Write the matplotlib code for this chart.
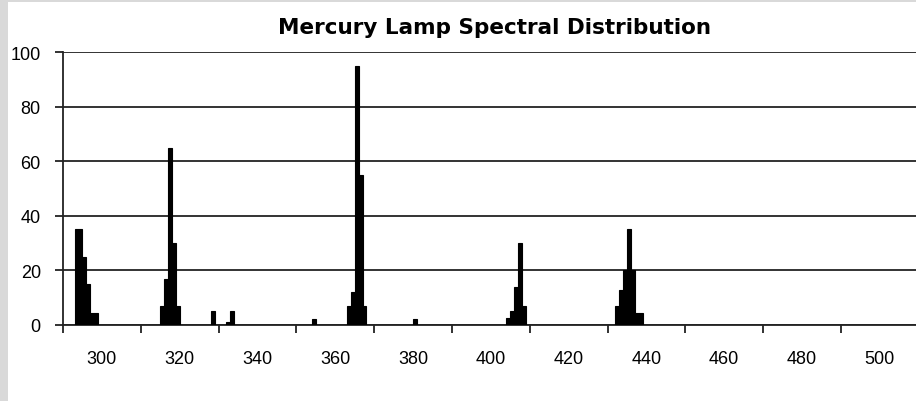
import matplotlib.pyplot as plt
from matplotlib.patches import Rectangle

plt.rcParams['font.family'] = ['Liberation Sans', 'DejaVu Sans']

# spectral lines (nm) and relative intensity
wavelength = [293, 294, 295, 296, 297, 298,
              315, 316, 317, 318, 319,
              328, 332, 333, 354,
              363, 364, 365, 366, 367,
              380,
              404, 405, 406, 407, 408,
              432, 433, 434, 435, 436, 437, 438]
intensity = [35, 35, 25, 15, 4.5, 4.5,
             7, 17, 65, 30, 7,
             5, 1, 5, 2.2,
             7, 12, 95, 55, 7,
             2.2,
             2.5, 5, 14, 30, 7,
             7, 13, 20, 35, 20, 4.5, 4.5]

x_labels = [300, 320, 340, 360, 380, 400, 420, 440, 460, 480, 500]
y_ticks = [0, 20, 40, 60, 80, 100]

fig = plt.figure(figsize=(9.16, 4.02), dpi=100)
fig.patch.set_facecolor('#d9d9d9')
# white chart area (grey frame only left and top)
fig.patches.append(Rectangle((8 / 916, 0), 1, 1 - 3 / 402, transform=fig.transFigure,
                             facecolor='white', edgecolor='none', zorder=-5))

ax = fig.add_axes([63 / 916, 76 / 402, 1 - 63 / 916, 273 / 402])
ax.set_zorder(2)
ax.set_facecolor('white')

ax.bar(wavelength, intensity, width=1.0, color='black', edgecolor='black',
       linewidth=0.8, zorder=3)

ax.set_xlim(289.5, 508.8)
ax.set_ylim(0, 100)

# category axis: labels centred in each 20 nm group, ticks on group borders
ax.set_xticks([v - 0.5 for v in x_labels])
ax.set_xticklabels([str(v) for v in x_labels])
ax.set_xticks([v - 10.5 for v in x_labels], minor=True)
ax.tick_params(axis='x', which='major', length=0, pad=18, labelsize=13)
ax.tick_params(axis='x', which='minor', length=6, width=1.3, direction='out',
               color='#222222')

ax.set_yticks(y_ticks)
ax.tick_params(axis='y', length=6, width=1.3, direction='out', pad=10,
               labelsize=13, color='#222222')

ax.grid(axis='y', color='#333333', linewidth=1.4, zorder=1)
ax.set_axisbelow(True)

for s in ['top', 'right']:
    ax.spines[s].set_visible(False)
for s in ['left', 'bottom']:
    ax.spines[s].set_linewidth(1.3)
    ax.spines[s].set_color('#222222')

fig.text(494 / 916, 1 - 28 / 402, 'Mercury Lamp Spectral Distribution',
         ha='center', va='center', fontsize=15.5, fontweight='bold',
         family=['DejaVu Sans'])

fig.savefig('out.png', dpi=100, facecolor=fig.get_facecolor())
